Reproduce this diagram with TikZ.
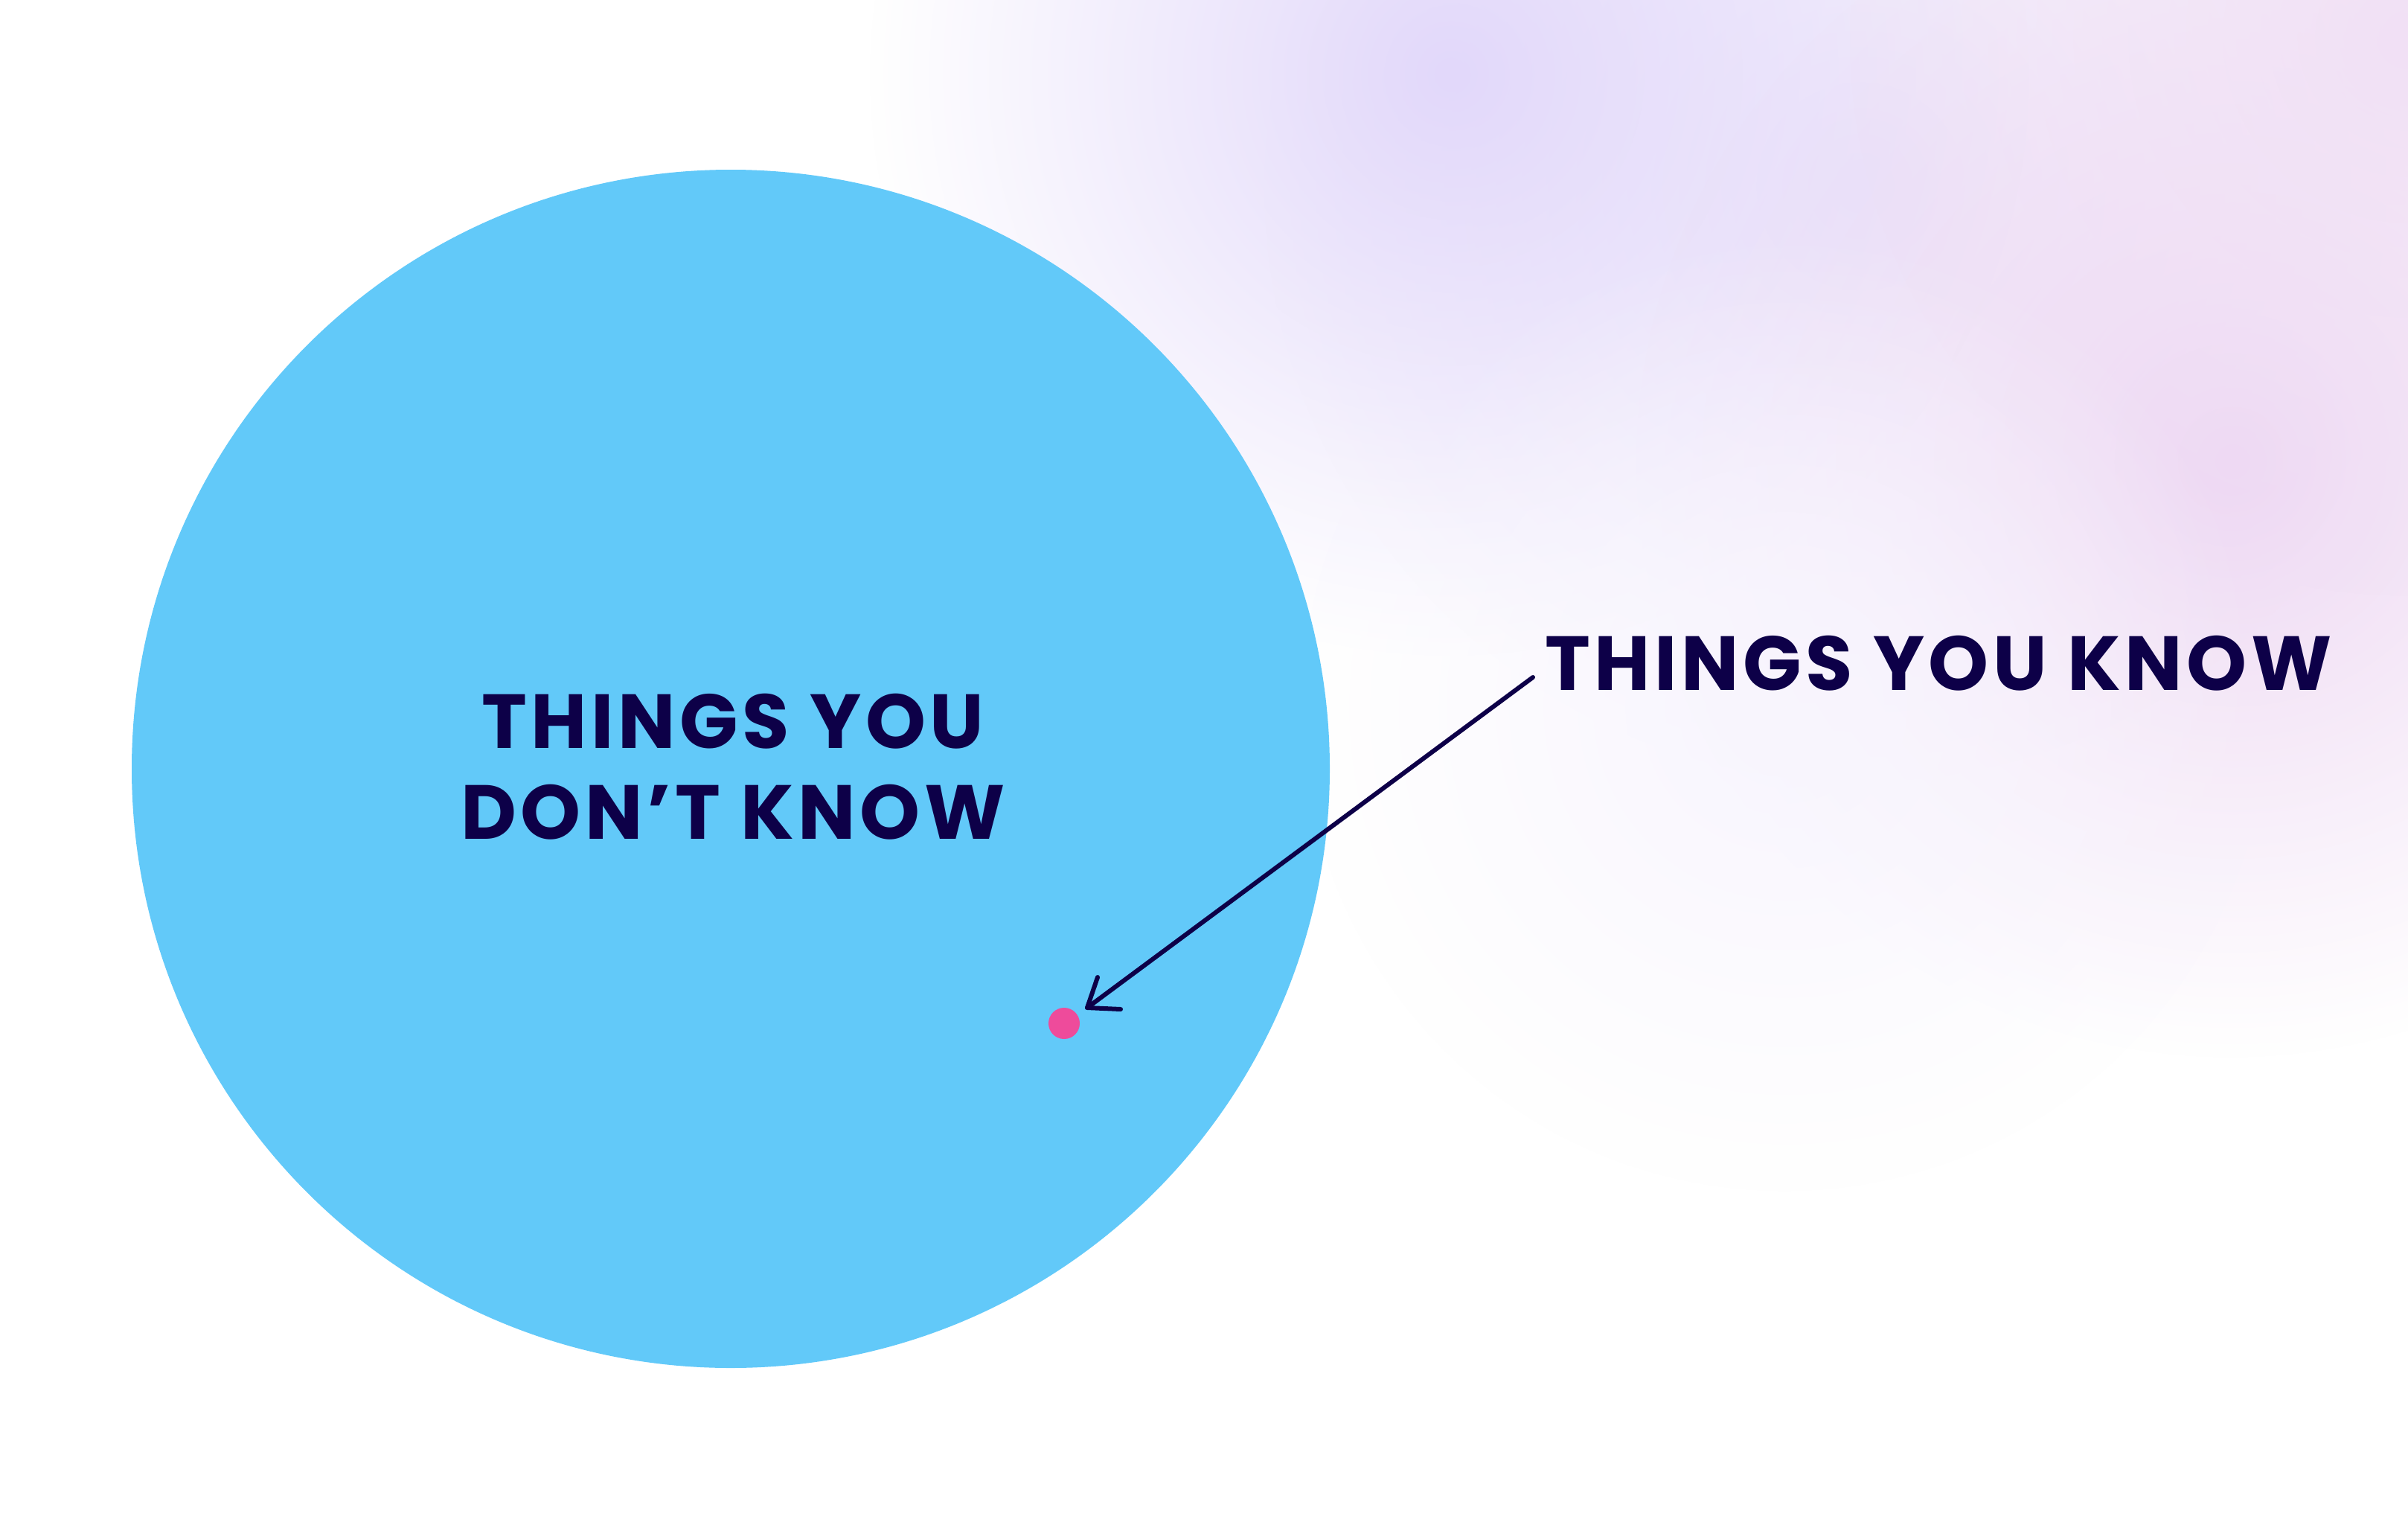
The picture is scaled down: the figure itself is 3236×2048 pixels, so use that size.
\documentclass[tikz,border=0pt]{standalone}
\usepackage{fontspec}
\setmainfont{Poppins}[BoldFont={* Bold}, LetterSpace=5.4]
\usetikzlibrary{fadings}
\definecolor{bluefill}{HTML}{62C9F9}
\definecolor{inkblue}{HTML}{0D0048}
\definecolor{dotpink}{HTML}{EE4B9B}
\definecolor{lav}{HTML}{E2D8FA}
\definecolor{pinkish}{HTML}{EED8F3}
\tikzfading[name=softblob, inner color=transparent!0, outer color=transparent!100]
\tikzset{
  blob/.style={path fading=softblob},
  label/.style={text=inkblue, font=\bfseries\fontsize{103}{122}\selectfont, inner sep=0pt, align=center},
  pointer/.style={draw=inkblue, line width=6pt, line cap=round, line join=round},
}
\begin{document}
\begin{tikzpicture}[x=1pt,y=-1pt]
\useasboundingbox (0,0) rectangle (3236,2048);
\fill[white] (0,0) rectangle (3236,2048);
% background glow
\fill[lav!60, blob] (2500,250) circle (800);
\fill[lav, blob] (1950,100) circle (780);
\fill[pinkish, blob] (3000,620) circle (800);
\fill[pinkish!80, blob] (3236,50) circle (750);
\fill[lav!25, blob] (2400,950) circle (650);
% big circle
\fill[bluefill] (982,1033) circle (805);
\node[label] (unknown) at (985,1030) {THINGS YOU\\DON’T KNOW};
\node[label, anchor=west] (known) at (2076,891) {THINGS YOU KNOW};
% dot
\fill[dotpink] (1430,1375) circle (21);
\node[inner sep=0pt, minimum size=42pt] (dot) at (1430,1375) {};
% arrow
\coordinate (start) at (2060,910);
\coordinate (tip) at (1461,1354);
\draw[pointer] (start) -- (tip);
\draw[pointer] (1475,1313) -- (tip) -- (1506,1356);
\end{tikzpicture}
\end{document}
